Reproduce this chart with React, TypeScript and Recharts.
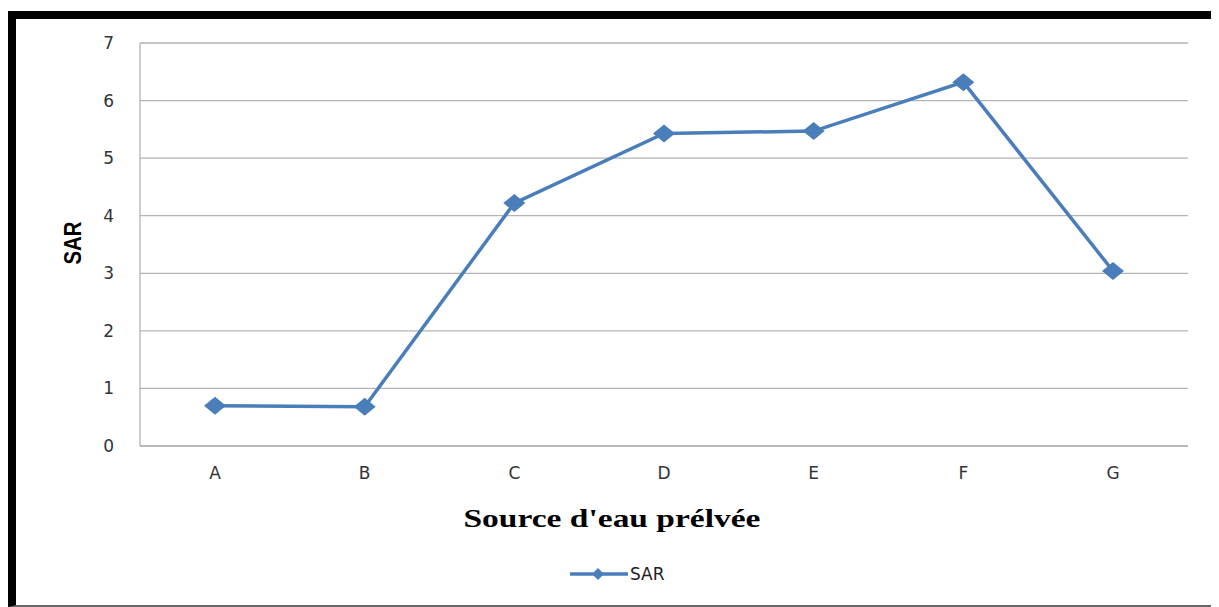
import React from "react";
import { LineChart, Line, XAxis, YAxis, CartesianGrid, Legend } from "recharts";

const categories = ["A", "B", "C", "D", "E", "F", "G"];
const sarValues = [0.7, 0.68, 4.22, 5.43, 5.47, 6.32, 3.04];
const yTicks = [0, 1, 2, 3, 4, 5, 6, 7];

const data = categories.map((c, i) => ({ name: c, SAR: sarValues[i] }));

const LINE_COLOR = "#4a7ebb";
const GRID = "#b4b4b4";
const TICK_FONT = "'DejaVu Sans', Verdana, sans-serif";

const Diamond = (props: any) => {
  const { cx, cy } = props;
  if (cx == null || cy == null) return null;
  return (
    <polygon
      points={`${cx - 11},${cy} ${cx},${cy - 9} ${cx + 11},${cy} ${cx},${cy + 9}`}
      fill={LINE_COLOR}
      stroke="none"
    />
  );
};

const LegendContent = () => (
  <div style={{ display: "flex", alignItems: "center", justifyContent: "flex-start", height: 20, paddingLeft: 562 }}>
    <svg width={58} height={20} style={{ display: "block" }}>
      <line x1={0} y1={10} x2={58} y2={10} stroke={LINE_COLOR} strokeWidth={3.5} />
      <polygon points="22,10 28,4 34,10 28,16" fill={LINE_COLOR} />
    </svg>
    <svg width={50} height={24} style={{ display: "block", marginLeft: 2 }}>
      <text x={0} y={12} dominantBaseline="central" style={{ fontFamily: TICK_FONT, fontSize: 17, fill: "#222" }}>
        SAR
      </text>
    </svg>
  </div>
);

export default function App() {
  return (
    <div style={{ position: "relative", width: 1211, height: 599 }}>
      <div
        style={{
          position: "absolute",
          left: 0,
          top: 3,
          width: 1211,
          height: 596,
          boxSizing: "border-box",
          borderLeft: "8px solid #000",
          borderTop: "8px solid #000",
          borderRight: "2px solid #888",
          borderBottom: "2px solid #666",
        }}
      />
      <div style={{ position: "absolute", left: 0, top: 0 }}>
        <LineChart
          width={1211}
          height={599}
          data={data}
          margin={{ top: 35, right: 31, left: 0, bottom: 111 }}
        >
          <CartesianGrid vertical={false} stroke={GRID} strokeWidth={1.3} />
          <XAxis
            dataKey="name"
            height={30}
            padding={{ left: 75, right: 75 }}
            axisLine={{ stroke: GRID, strokeWidth: 1.3 }}
            tickLine={false}
            tickSize={0}
            tickMargin={21}
            tick={{ fontFamily: TICK_FONT, fontSize: 17, fill: "#333" }}
            label={{
              content: () => (
                <text
                  x={604}
                  y={510}
                  textAnchor="middle"
                  dominantBaseline="central"
                  textLength={297}
                  lengthAdjust="spacingAndGlyphs"
                  style={{ fontFamily: "'Liberation Serif', 'Times New Roman', serif", fontSize: 26, fontWeight: 700, fill: "#000" }}
                >
                  Source d'eau prélvée
                </text>
              ),
            }}
          />
          <YAxis
            domain={[0, 7]}
            ticks={yTicks}
            width={132}
            axisLine={{ stroke: GRID, strokeWidth: 1.3 }}
            tickLine={false}
            tickSize={0}
            tickMargin={26}
            tick={{ fontFamily: TICK_FONT, fontSize: 17, fill: "#333" }}
            label={{
              content: () => (
                <text
                  x={64}
                  y={235}
                  transform="rotate(-90 64 235)"
                  textAnchor="middle"
                  dominantBaseline="central"
                  textLength={43}
                  lengthAdjust="spacingAndGlyphs"
                  style={{ fontFamily: "'Liberation Sans', Arial, sans-serif", fontSize: 24, fontWeight: 700, fill: "#000" }}
                >
                  SAR
                </text>
              ),
            }}
          />
          <Legend verticalAlign="bottom" height={20} content={<LegendContent />} wrapperStyle={{ left: 0, width: 1211, top: 556 }} />
          <Line
            type="linear"
            dataKey="SAR"
            stroke={LINE_COLOR}
            strokeWidth={3.5}
            dot={<Diamond />}
            activeDot={false}
            isAnimationActive={false}
          />
        </LineChart>
      </div>
    </div>
  );
}
